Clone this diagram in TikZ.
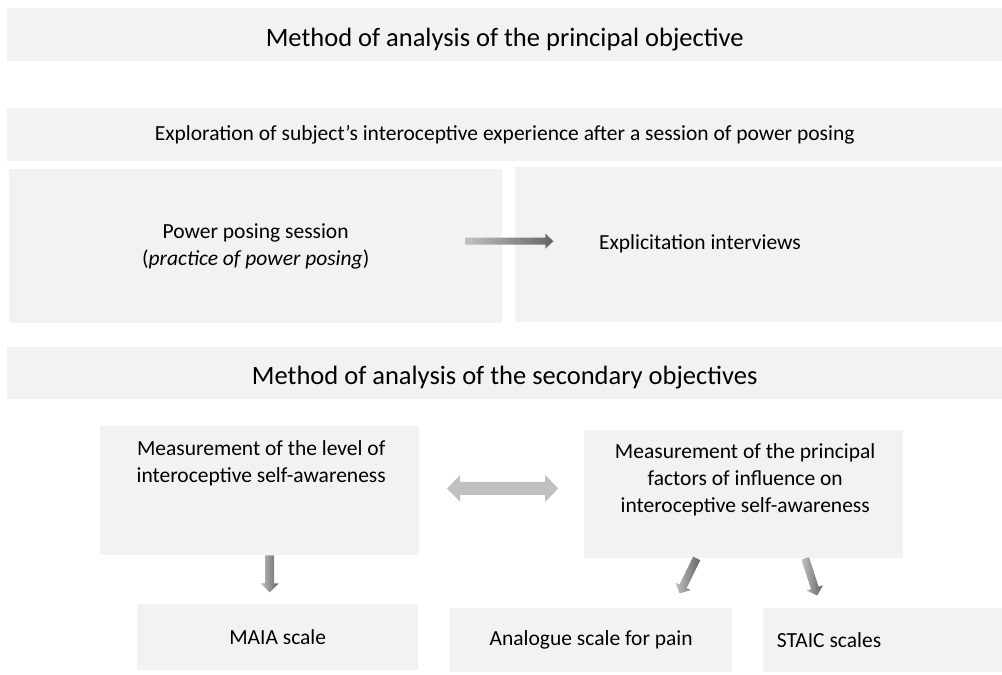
\documentclass[tikz,border=0pt]{standalone}
\usepackage{fontspec}
\setmainfont{Carlito}
\usetikzlibrary{positioning,calc}
\definecolor{panelgray}{RGB}{242,242,242}
\definecolor{arrowlight}{RGB}{192,192,192}
\definecolor{arrowdark}{RGB}{100,100,100}
\definecolor{arrowflat}{RGB}{192,192,192}
% block arrow: #1 tail, #2 angle, #3 length, #4 half shaft, #5 half head, #6 head length
\newcommand{\fatarrow}[6]{%
  \begin{scope}[shift={#1}, rotate=#2]
    \shade[left color=arrowlight, right color=arrowdark]
      (0,-#4) -- (#3-#6,-#4) -- (#3-#6,-#5) -- (#3,0) -- (#3-#6,#5) -- (#3-#6,#4) -- (0,#4) -- cycle;
  \end{scope}}

\begin{document}
\begin{tikzpicture}[
  x=1pt, y=-1pt,
  panel/.style={fill=panelgray, draw=none, inner sep=0pt, anchor=north west},
  body/.style={font=\fontsize{21.5}{27}\selectfont, align=center, inner sep=0pt},
  head/.style={font=\fontsize{26.5}{32}\selectfont, inner sep=0pt, text height=26pt, text depth=3pt},
]
  \useasboundingbox (0,0) rectangle (1002,675);
  % Principal objective
  \node[panel, head, minimum width=995, minimum height=53] (T1) at (7,8)
    {Method of analysis of the principal objective};
  \node[panel, body, minimum width=995, minimum height=53] (E) at (7,108)
    {Exploration of subject’s interoceptive experience after a session of power posing};
  \node[panel, body, minimum width=493, minimum height=154] (P) at (9,169)
    {Power posing session\\(\textit{practice of power posing})};
  \node[panel, minimum width=487, minimum height=155] (X) at (515,167) {};
  \node[body] (Xtxt) at (700,244) {Explicitation interviews};
  \fatarrow{($(P.east)+(-37,-5)$)}{0}{88}{3.5}{7.5}{8}
  % Secondary objectives
  \node[panel, head, minimum width=995, minimum height=52] (T2) at (7,347)
    {Method of analysis of the secondary objectives};
  \node[panel, minimum width=319, minimum height=129] (L) at (100,426) {};
  \node[body] (Ltxt) at ($(L.north)+(1.5,37.5)$)
    {Measurement of the level of\\interoceptive self-awareness};
  \node[panel, minimum width=319, minimum height=128] (R) at (584,430) {};
  \node[body] (Rtxt) at ($(R.north)+(1.5,50)$)
    {Measurement of the principal\\factors of influence on\\interoceptive self-awareness};
  \coordinate (mid) at ($(L.east)!0.5!(R.west)+(1,-4)$);
  \fill[arrowflat] ($(mid)+(-55.5,0)$) -- ++(13,-13.5) -- ++(0,7) -- ++(85,0) -- ++(0,-7)
    -- ++(13,13.5) -- ++(-13,13.5) -- ++(0,-7) -- ++(-85,0) -- ++(0,7) -- cycle;
  % Scales
  \node[panel, body, minimum width=281, minimum height=66] (M) at (137,604) {MAIA scale};
  \node[panel, body, minimum width=282, minimum height=64] (A) at (450,608) {Analogue scale for pain};
  \node[panel, minimum width=239, minimum height=64] (S) at (763,608) {};
  \node[body] (Stxt) at (829,640) {STAIC scales};
  \fatarrow{($(L.south)+(10,0)$)}{-90}{37}{4.5}{9}{9}
  \fatarrow{($(R.south)+(-47,0)$)}{-116}{39}{4}{8.5}{8}
  \fatarrow{($(R.south)+(61.5,0)$)}{-72}{39}{4}{8.5}{8}
\end{tikzpicture}
\end{document}
